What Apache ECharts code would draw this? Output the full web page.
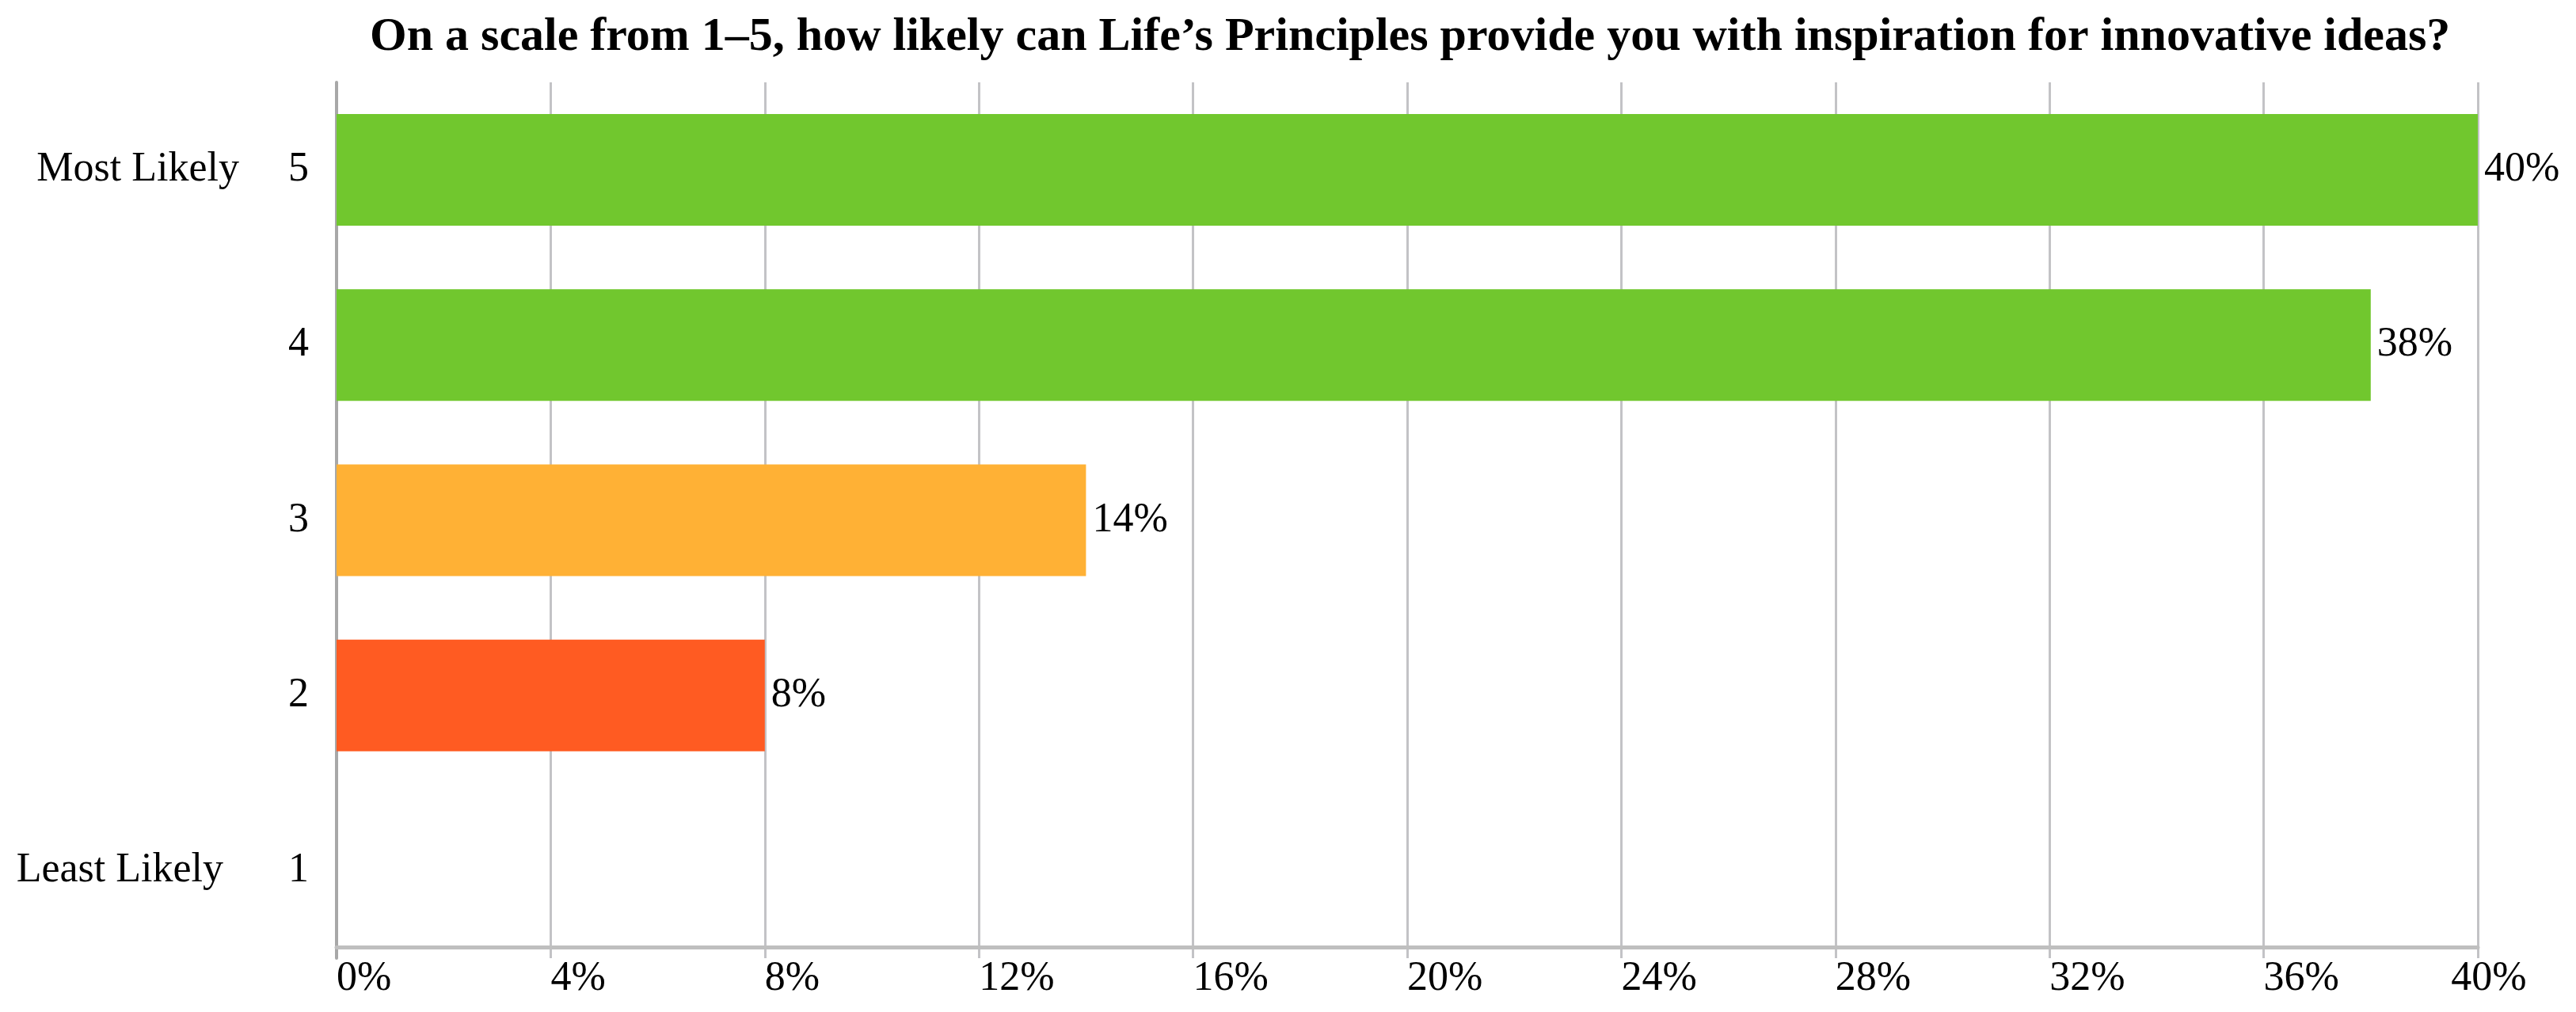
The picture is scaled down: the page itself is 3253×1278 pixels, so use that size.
<!DOCTYPE html>
<html>
<head>
<meta charset="utf-8">
<script src="https://cdn.jsdelivr.net/npm/echarts@6/dist/echarts.min.js"></script>
<style>html,body{margin:0;padding:0;background:#fff;}#c{width:3253px;height:1278px;}</style>
</head>
<body>
<div id="c"></div>
<script>
const titleText = "On a scale from 1–5, how likely can Life’s Principles provide you with inspiration for innovative ideas?";
const categories = ["1", "2", "3", "4", "5"];
const sideLabels = ["Least Likely", "", "", "", "Most Likely"];
const values = [0, 8, 14, 38, 40];
const barColors = ["#71C72E", "#FF5B22", "#FFB135", "#71C72E", "#71C72E"];
const xTicks = { min: 0, max: 40, interval: 4 };

const FONT = "Liberation Serif";
const FS = 52;
const chart = echarts.init(document.getElementById('c'), null, { renderer: 'canvas' });
chart.setOption({
  animation: false,
  backgroundColor: '#ffffff',
  title: {
    text: titleText,
    left: 462,
    top: 12,
    textStyle: { fontFamily: FONT, fontWeight: 'bold', fontSize: 60, color: '#000' }
  },
  grid: { left: 425, right: 124, top: 104, bottom: 68, containLabel: false },
  xAxis: [{
    type: 'value',
    min: xTicks.min, max: xTicks.max, interval: xTicks.interval,
    offset: -14,
    axisLine: { show: true, lineStyle: { color: '#BFBFBF', width: 5 } },
    axisTick: { show: false },
    splitLine: { show: true, lineStyle: { color: '#C3C3C6', width: 3 } },
    axisLabel: {
      fontFamily: FONT, fontSize: FS, color: '#000', margin: 14,
      align: 'left',
      formatter: v => v === xTicks.max ? '' : v + '%'
    }
  }, {
    type: 'value',
    min: xTicks.min, max: xTicks.max, interval: xTicks.interval,
    position: 'bottom',
    offset: -14,
    axisLine: { show: false },
    axisTick: { show: false },
    splitLine: { show: false },
    axisLabel: {
      fontFamily: FONT, fontSize: FS, color: '#000', margin: 14,
      align: 'center', padding: [0, 0, 0, 28],
      formatter: v => v === xTicks.max ? v + '%' : ''
    }
  }],
  yAxis: {
    type: 'category',
    data: categories,
    axisLine: { show: true, lineStyle: { color: '#A8A8A8', width: 4 } },
    axisTick: { show: false },
    axisLabel: {
      margin: 35,
      formatter: function (v, i) {
        const s = sideLabels[i];
        if (!s) return '{n|' + v + '}';
        return (i === 0 ? '{l|' + s + '}' : '{m|' + s + '}') + '{n|' + v + '}';
      },
      rich: {
        m: { fontFamily: FONT, fontSize: FS, color: '#000', padding: [0, 48, 0, 0] },
        l: { fontFamily: FONT, fontSize: FS, color: '#000', padding: [0, 68, 0, 0] },
        n: { fontFamily: FONT, fontSize: FS, color: '#000', width: 40, align: 'right' }
      }
    }
  },
  series: [{
    type: 'bar',
    xAxisIndex: 0,
    barWidth: 141,
    data: values.map((v, i) => ({ value: v, itemStyle: { color: barColors[i] } })),
    label: {
      show: true, position: 'right', distance: 8,
      fontFamily: FONT, fontSize: FS, color: '#000',
      formatter: p => p.value > 0 ? p.value + '%' : ''
    }
  }]
});
</script>
</body>
</html>
